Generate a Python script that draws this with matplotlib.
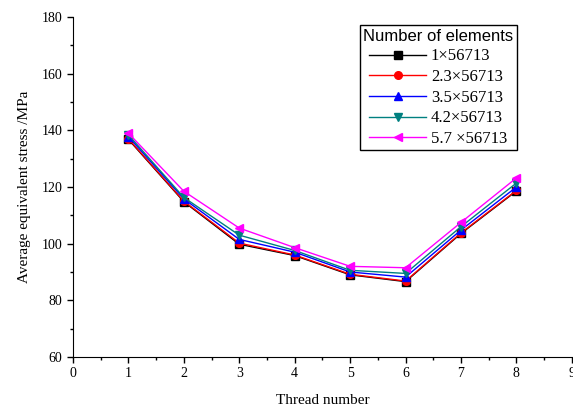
import matplotlib.pyplot as plt
from matplotlib.ticker import MultipleLocator

threads = [1, 2, 3, 4, 5, 6, 7, 8]
labels = ['1×56713', '2.3×56713', '3.5×56713', '4.2×56713', '5.7 ×56713']
s1 = [136.8, 114.8, 99.8, 95.8, 89.0, 86.6, 103.6, 118.6]
s2 = [137.0, 115.0, 100.2, 96.0, 89.2, 86.8, 103.8, 118.8]
s3 = [137.8, 115.8, 101.5, 97.0, 90.0, 88.2, 104.8, 120.0]
s4 = [138.4, 116.3, 103.0, 97.6, 90.6, 89.5, 106.0, 121.4]
s5 = [139.0, 118.5, 105.5, 98.6, 92.0, 91.5, 107.5, 123.2]

colors = ['black', 'red', 'blue', '#008080', 'magenta']
markers = ['s', 'o', '^', 'v', '<']

plt.rcParams['font.family'] = 'Liberation Serif'

fig = plt.figure(figsize=(5.73, 4.12), dpi=100)
ax = fig.add_axes([0.1274, 0.1335, 0.8706, 0.8252])

for ys, lab, c, m in zip([s1, s2, s3, s4, s5], labels, colors, markers):
    ax.plot(threads, ys, color=c, marker=m, markersize=5.5, linewidth=1, label=lab)

ax.set_xlim(0, 9)
ax.set_ylim(60, 180)
ax.xaxis.set_major_locator(MultipleLocator(1))
ax.xaxis.set_minor_locator(MultipleLocator(0.5))
ax.yaxis.set_major_locator(MultipleLocator(20))
ax.yaxis.set_minor_locator(MultipleLocator(10))
ax.tick_params(which='major', direction='out', length=4, width=1, labelsize=10)
ax.tick_params(which='minor', direction='out', length=2.5, width=1)
ax.spines['top'].set_visible(False)
ax.spines['right'].set_visible(False)

ax.set_xlabel('Thread number', fontsize=11, labelpad=10)
ax.set_ylabel('Average equivalent stress /MPa', fontsize=11, labelpad=8)

leg = ax.legend(title='Number of elements', loc='upper right',
                bbox_to_anchor=(0.906, 1.0), fontsize=12, frameon=True,
                fancybox=False, edgecolor='black', framealpha=1,
                handlelength=3.4, borderpad=0.2, labelspacing=0.28,
                handletextpad=0.3)
leg.get_title().set_fontfamily('Liberation Sans')
leg.get_title().set_fontsize(12)
leg.get_frame().set_linewidth(1)

fig.savefig('out.png', dpi=100)
